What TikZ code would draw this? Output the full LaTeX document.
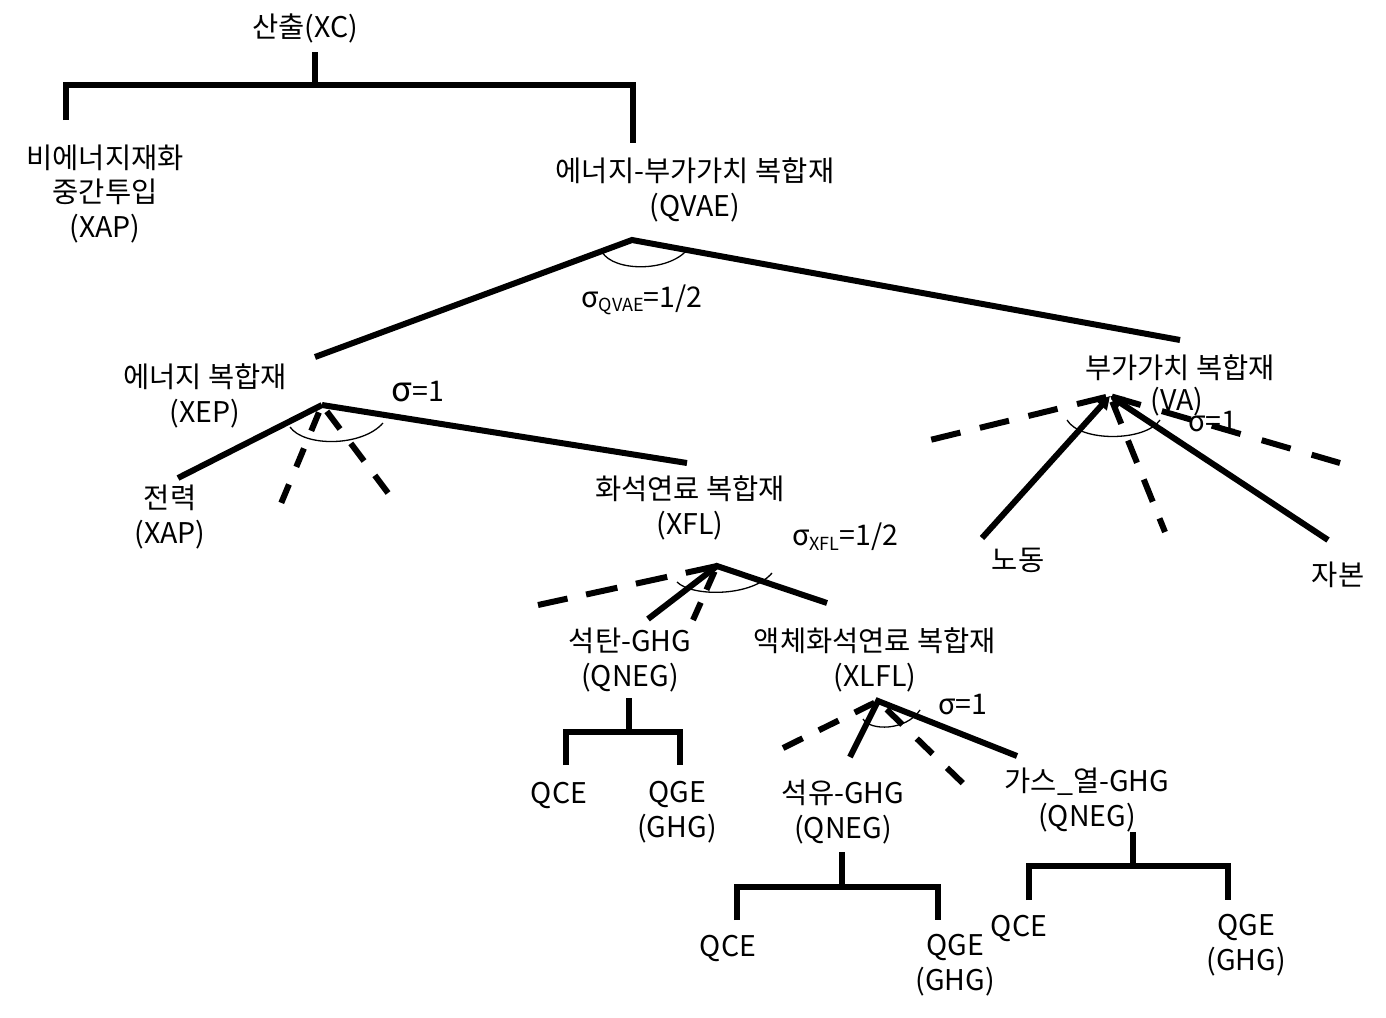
\documentclass[tikz,border=0pt]{standalone}
\usepackage{fontspec}
\setmainfont{Noto Sans CJK KR}
\usetikzlibrary{arrows.meta}
\begin{document}
\begin{tikzpicture}[x=1pt,y=-1pt,
  lbl/.style={font=\fontsize{28.5}{34.5}\selectfont, align=center, inner sep=0pt},
  br/.style={line width=6pt},
  edge/.style={line width=6pt},
  dedge/.style={line width=6pt, dash pattern=on 24pt off 17pt},
  arcl/.style={line width=1.3pt},
  arr/.style={line width=6pt, -{Triangle[length=13pt,width=14pt]}}]
\newcommand{\sbs}[1]{\raisebox{-0.3ex}{\fontsize{18}{18}\selectfont #1}}
\useasboundingbox (0,0) rectangle (1386,1017);

% labels
\node[lbl] (xc) at (305,28) {산출(XC)};
\node[lbl] (xap) at (105,194) {비에너지재화\\중간투입\\(XAP)};
\node[lbl] (qvae) at (695,190) {에너지-부가가치 복합재\\(QVAE)};
\node[lbl] (sqvae) at (642,300) {σ\sbs{QVAE}=1/2};
\node[lbl] (xep) at (205,396) {에너지 복합재\\(XEP)};
\node[lbl] (s1) at (418,392) {{\fontsize{34}{34}\selectfont σ}=1};
\node[lbl] (elec) at (170,517) {전력\\(XAP)};
\node[lbl] (xfl) at (690,508) {화석연료 복합재\\(XFL)};
\node[lbl] (sxfl) at (845,537) {σ\sbs{XFL}=1/2};
\node[lbl] (coal) at (630,660) {석탄-GHG\\(QNEG)};
\node[lbl] (xlfl) at (875,660) {액체화석연료 복합재\\(XLFL)};
\node[lbl] (s2) at (963,705) {σ=1};
\node[lbl] (qce1) at (559,795) {QCE};
\node[lbl] (qge1) at (677,812) {QGE\\(GHG)};
\node[lbl] (oil) at (843,812) {석유-GHG\\(QNEG)};
\node[lbl] (gas) at (1087,800) {가스\_열-GHG\\(QNEG)};
\node[lbl] (qce2) at (728,948) {QCE};
\node[lbl] (qge2) at (955,965) {QGE\\(GHG)};
\node[lbl] (qce3) at (1019,928) {QCE};
\node[lbl] (qge3) at (1246,945) {QGE\\(GHG)};
\node[lbl] (vatxt) at (1180,368) {부가가치 복합재};
\node[lbl] (va2) at (1177,402) {(VA)};
\node[lbl] (s3) at (1213,422) {σ=1};
\node[lbl] (labor) at (1018,560) {노동};
\node[lbl] (capital) at (1338,575) {자본};

% top bracket
\coordinate (t0) at (315,52); \coordinate (t0b) at (315,85);
\coordinate (tL) at (66,120); \coordinate (tR) at (633,143);
\draw[br] (t0) -- (t0b);
\draw[br] (tL) -- (tL |- t0b) -- (tR |- t0b) -- (tR);

% QVAE nest
\coordinate (qv) at (632,240);
\coordinate (qvL) at (315,357); \coordinate (qvR) at (1180,340);
\draw[edge] (qvL) -- (qv) -- (qvR);
\draw[arcl] (602,252) .. controls (614,272) and (668,272) .. (687,250);

% XEP nest
\coordinate (xe) at (322,405);
\coordinate (xeA) at (178,478); \coordinate (xeB) at (687,463);
\coordinate (xeC) at (275,518); \coordinate (xeD) at (388,493);
\draw[edge] (xeA) -- (xe);
\draw[edge] (xe) -- (xeB);
\draw[dedge, dash pattern=on 20pt off 19pt, dash phase=-8pt] (xe) -- (xeC);
\draw[dedge, dash pattern=on 22pt off 18pt, dash phase=-8pt] (xe) -- (xeD);
\draw[arcl] (290,427) .. controls (304,447) and (362,447) .. (383,423);

% XFL nest
\coordinate (xf) at (717,566);
\coordinate (xfA) at (648,619); \coordinate (xfB) at (827,603);
\coordinate (xfC) at (538,605); \coordinate (xfD) at (693,620);
\draw[edge] (xfA) -- (xf) -- (xfB);
\draw[dedge, dash pattern=on 32pt off 19pt] (xf) -- (xfC);
\draw[dedge, dash pattern=on 20pt off 14pt, dash phase=-6pt] (xf) -- (xfD);
\draw[arcl] (677,582) .. controls (692,597) and (752,597) .. (772,573);

% XLFL nest
\coordinate (xl) at (878,701);
\coordinate (xlA) at (850,757); \coordinate (xlB) at (1017,756);
\coordinate (xlC) at (783,748); \coordinate (xlD) at (975,795);
\draw[edge] (xlA) -- (xl) -- (xlB);
\draw[dedge, dash pattern=on 22pt off 18pt, dash phase=-4pt] (xl) -- (xlC);
\draw[dedge, dash pattern=on 22pt off 20pt, dash phase=-12pt] (xl) -- (xlD);
\draw[arcl] (863,719) .. controls (870,731) and (906,731) .. (920,710);

% VA nest
\coordinate (va) at (1110,396);
\coordinate (vaA) at (982,538); \coordinate (vaB) at (1328,540);
\coordinate (vaC) at (930,440); \coordinate (vaD) at (1340,463); \coordinate (vaE) at (1165,532);
\draw[arr] (vaA) -- (va);
\draw[arr] (vaB) -- (va);
\draw[dedge, dash pattern=on 30pt off 20pt, dash phase=-4pt] (va) -- (vaC);
\draw[dedge, dash pattern=on 30pt off 22pt, dash phase=-2pt] (va) -- (vaD);
\draw[dedge, dash pattern=on 24pt off 18pt, dash phase=-6pt] (va) -- (vaE);
\draw[arcl] (1067,420) .. controls (1080,442) and (1145,442) .. (1160,420);

% QNEG brackets
\coordinate (b1s) at (629,698); \coordinate (b1m) at (629,732);
\coordinate (b1L) at (566,765); \coordinate (b1R) at (680,765);
\draw[br] (b1s) -- (b1m);
\draw[br] (b1L) -- (b1L |- b1m) -- (b1R |- b1m) -- (b1R);

\coordinate (b2s) at (842,852); \coordinate (b2m) at (842,887);
\coordinate (b2L) at (737,920); \coordinate (b2R) at (938,920);
\draw[br] (b2s) -- (b2m);
\draw[br] (b2L) -- (b2L |- b2m) -- (b2R |- b2m) -- (b2R);

\coordinate (b3s) at (1133,832); \coordinate (b3m) at (1133,866);
\coordinate (b3L) at (1029,900); \coordinate (b3R) at (1228,900);
\draw[br] (b3s) -- (b3m);
\draw[br] (b3L) -- (b3L |- b3m) -- (b3R |- b3m) -- (b3R);
\end{tikzpicture}
\end{document}
